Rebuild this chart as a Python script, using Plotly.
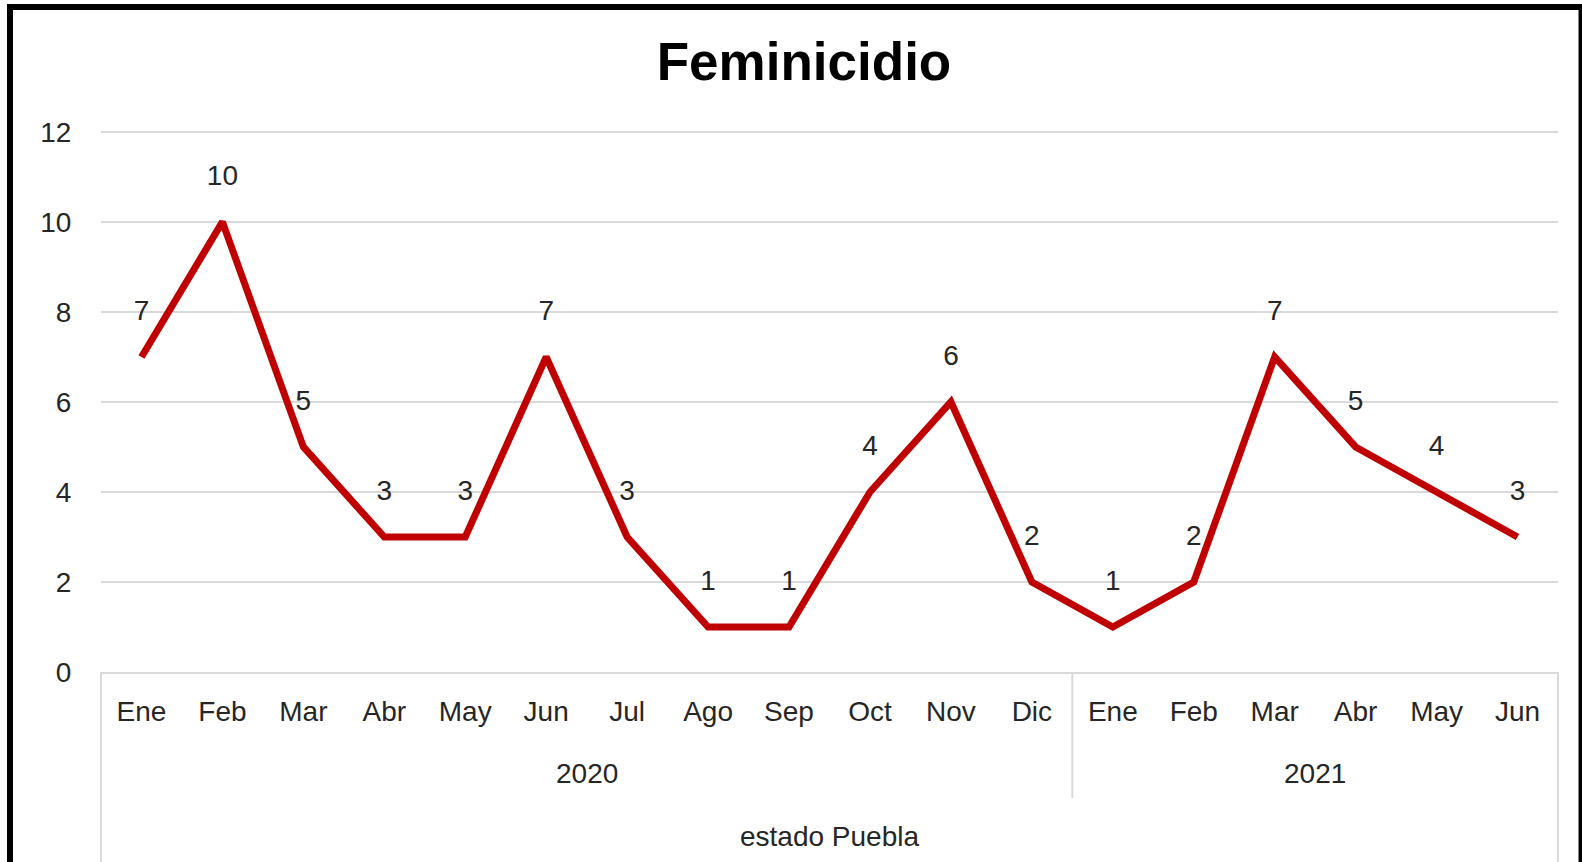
import plotly.graph_objects as go

year_labels = ['2020'] * 12 + ['2021'] * 6
month_labels = ['Ene', 'Feb', 'Mar', 'Abr', 'May', 'Jun', 'Jul', 'Ago', 'Sep', 'Oct', 'Nov', 'Dic',
                'Ene', 'Feb', 'Mar', 'Abr', 'May', 'Jun']
values = [7, 10, 5, 3, 3, 7, 3, 1, 1, 4, 6, 2, 1, 2, 7, 5, 4, 3]
title_text = 'Feminicidio'
outer_label = 'estado Puebla'
y_ticks = [0, 2, 4, 6, 8, 10, 12]

W, H = 1582, 862
L, R, T, B = 101, 1558, 131, 672
pw, ph = R - L, B - T


def px(x):
    return (x - L) / pw


def py(y):
    return (B - y) / ph


FONT = 'Liberation Sans, Arial, sans-serif'
TXT = '#262626'
GRID = '#d9d9d9'

positions = list(range(len(month_labels)))

fig = go.Figure()
fig.add_trace(go.Scatter(
    x=positions,
    y=values,
    mode='lines+markers+text',
    line=dict(color='#c00000', width=7),
    marker=dict(size=46, color='rgba(0,0,0,0)'),
    text=[str(v) for v in values],
    textposition='top center',
    textfont=dict(family=FONT, size=28, color=TXT),
    cliponaxis=False,
    hoverinfo='skip',
))

fig.update_layout(
    width=W, height=H,
    margin=dict(l=L, r=W - R, t=T, b=H - B),
    paper_bgcolor='white', plot_bgcolor='white',
    showlegend=False,
    title=dict(text='<b>' + title_text + '</b>', x=804 / W, xanchor='center',
               y=1 - 61 / H, yanchor='middle', yref='container',
               font=dict(family=FONT, size=53, color='black')),
    xaxis=dict(range=[-0.5, len(month_labels) - 0.5], tickvals=positions, ticktext=month_labels,
               showgrid=False, showline=True, linecolor=GRID, linewidth=2,
               ticks='outside', ticklen=13, tickcolor='rgba(0,0,0,0)',
               tickfont=dict(family=FONT, size=28, color=TXT), zeroline=False),
    yaxis=dict(range=[0, 12.02], tickvals=y_ticks, showgrid=True, gridcolor=GRID, gridwidth=2,
               zeroline=False, showline=False, ticks='outside', ticklen=23,
               tickcolor='rgba(0,0,0,0)', tickfont=dict(family=FONT, size=28, color=TXT)),
)

# top gridline (plotly omits gridlines at the range edge)
fig.add_shape(type='line', xref='paper', yref='y', x0=0, x1=1, y0=y_ticks[-1], y1=y_ticks[-1],
              line=dict(color=GRID, width=2), layer='below')

# year group labels and dividers, derived from year_labels
groups = []
for i, yr in enumerate(year_labels):
    if groups and groups[-1][0] == yr:
        groups[-1][2] = i
    else:
        groups.append([yr, i, i])
for yr, i0, i1 in groups:
    fig.add_annotation(text=yr, xref='x', yref='paper', x=(positions[i0] + positions[i1]) / 2,
                       y=py(773), showarrow=False, xanchor='center', yanchor='middle',
                       font=dict(family=FONT, size=28, color=TXT))
for yr, i0, i1 in groups[:-1]:
    fig.add_shape(type='line', xref='x', yref='paper', x0=positions[i1] + 0.5, x1=positions[i1] + 0.5,
                  y0=0, y1=py(798), line=dict(color=GRID, width=2))

fig.add_annotation(text=outer_label, xref='paper', yref='paper', x=0.5, y=py(836),
                   showarrow=False, xanchor='center', yanchor='middle',
                   font=dict(family=FONT, size=28, color=TXT))

# outer category box edges extending to the bottom
for xp in (0, 1):
    fig.add_shape(type='line', xref='paper', yref='paper', x0=xp, x1=xp, y0=0, y1=py(880),
                  line=dict(color=GRID, width=2))

# chart border
fig.add_shape(type='rect', xref='paper', yref='paper', x0=px(10), x1=px(1581.5),
              y0=py(900), y1=py(7), line=dict(color='black', width=6))

fig.write_html('out.html', config={'displayModeBar': False},
               post_script="document.body.style.margin='0';document.body.style.overflow='hidden';")
